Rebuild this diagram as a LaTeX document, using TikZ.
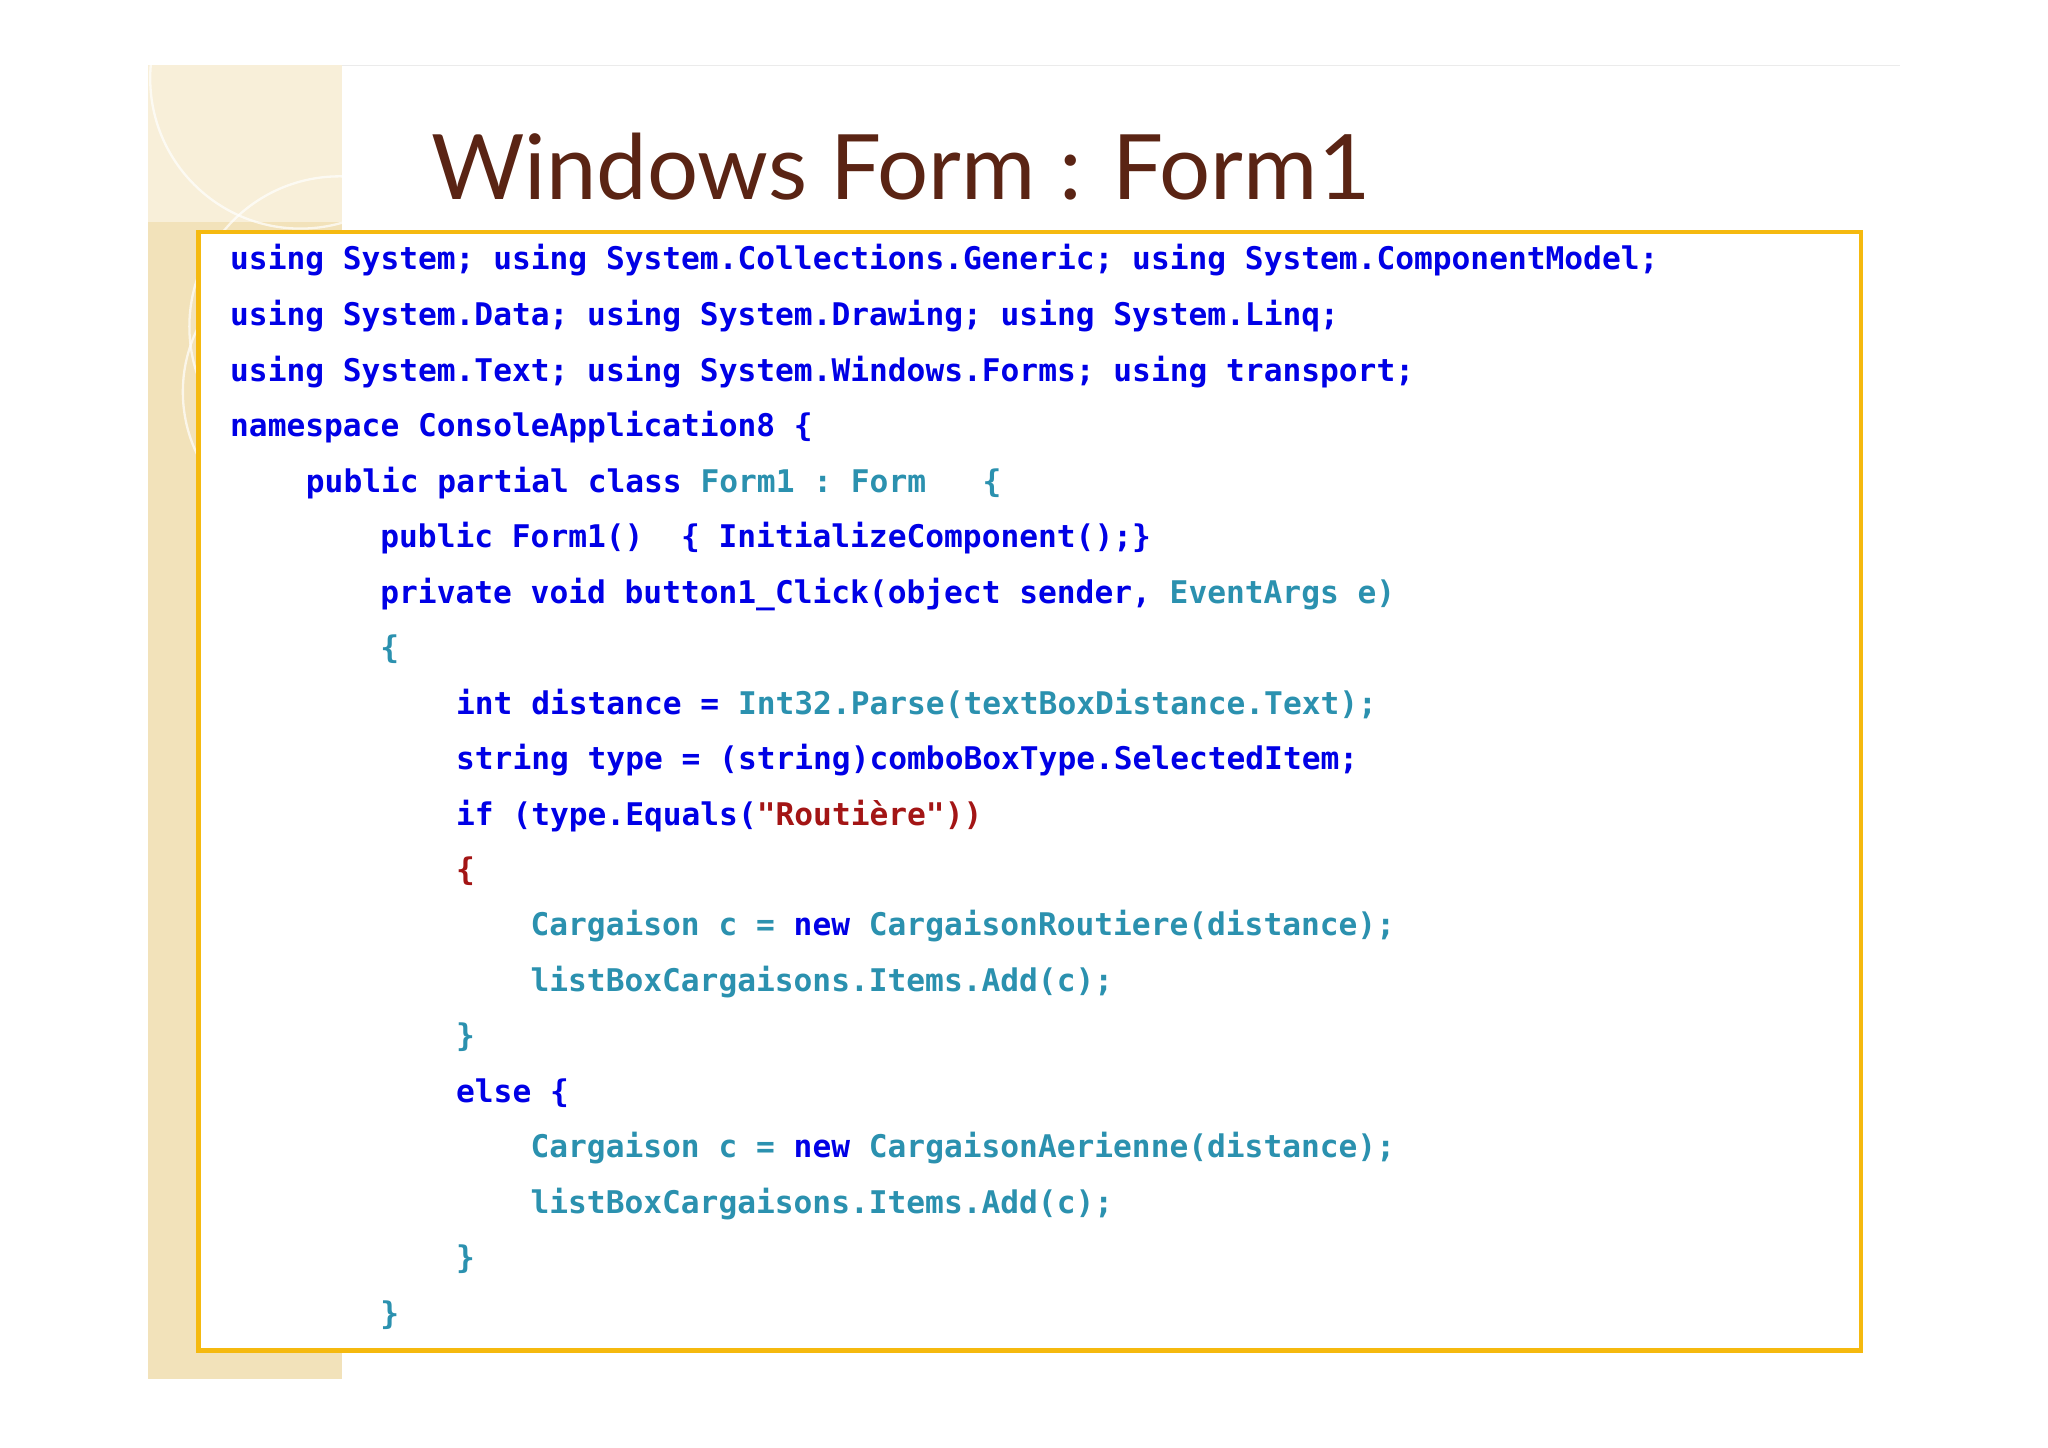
\documentclass[tikz,border=0pt]{standalone}
\usepackage{fontspec}
\setmainfont{Lato}
\setmonofont{DejaVu Sans Mono}
\definecolor{kw}{HTML}{0000E6}
\definecolor{ty}{HTML}{2B91AF}
\definecolor{st}{HTML}{A31515}
\definecolor{ttl}{HTML}{5A2414}
\definecolor{strip}{HTML}{F2E2BA}
\definecolor{frame}{HTML}{F5B90F}
\tikzset{code/.style={anchor=base west,inner sep=0pt,font=\fontsize{20.4pt}{24pt}\ttfamily\bfseries,text=kw}}
\begin{document}
\begin{tikzpicture}[x=0.03cm,y=-0.03cm]
\useasboundingbox[fill=white] (0,0) rectangle (1568,1108);
\fill[strip] (113,50) rectangle (262,1056);
\begin{scope}
\clip (113,50) rectangle (262,1056);
\fill[strip!55] (113,50) rectangle (262,170);
\draw[white,line width=1.5pt,opacity=.7] (230,60) circle (115);
\draw[white,line width=1.5pt,opacity=.7] (260,250) circle (115);
\draw[white,line width=1.5pt,opacity=.7] (250,300) circle (110);
\end{scope}
\draw[black!8,line width=0.6pt] (262,50) -- (1455,50);
\node[anchor=base west,inner sep=0pt,text=ttl,font=\fontsize{59pt}{66pt}\selectfont] (title) at (330,153) {Windows Form : Form1};
\node[draw=frame,fill=white,line width=3pt,minimum width=1273*0.03cm,minimum height=856*0.03cm,anchor=north west,inner sep=0pt] (box) at (150,176) {};
\node[code] (l1) at (176,206) {using System; using System.Collections.Generic; using System.ComponentModel;};
\node[code] (l2) at (176,249) {using System.Data; using System.Drawing; using System.Linq;};
\node[code] (l3) at (176,292) {using System.Text; using System.Windows.Forms; using transport;};
\node[code] (l4) at (176,334) {namespace ConsoleApplication8 \{};
\node[code] (l5) at (234,377) {public partial class \textcolor{ty}{Form1 : Form~~~\{}};
\node[code] (l6) at (291,419) {public Form1()~~\{ InitializeComponent();\}};
\node[code] (l7) at (291,462) {private void button1\_Click(object sender, \textcolor{ty}{EventArgs e)}};
\node[code,text=ty] (l8) at (291,504) {\{};
\node[code] (l9) at (349,547) {int distance = \textcolor{ty}{Int32.Parse(textBoxDistance.Text);}};
\node[code] (l10) at (349,589) {string type = (string)comboBoxType.SelectedItem;};
\node[code] (l11) at (349,632) {if (type.Equals(\textcolor{st}{"Routière"))}};
\node[code,text=st] (l12) at (349,674) {\{};
\node[code,text=ty] (l13) at (406,716) {Cargaison c = \textcolor{kw}{new} CargaisonRoutiere(distance);};
\node[code,text=ty] (l14) at (406,759) {listBoxCargaisons.Items.Add(c);};
\node[code,text=ty] (l15) at (349,801) {\}};
\node[code] (l16) at (349,844) {else \{};
\node[code,text=ty] (l17) at (406,886) {Cargaison c = \textcolor{kw}{new} CargaisonAerienne(distance);};
\node[code,text=ty] (l18) at (406,929) {listBoxCargaisons.Items.Add(c);};
\node[code,text=ty] (l19) at (349,971) {\}};
\node[code,text=ty] (l20) at (291,1014) {\}};
\end{tikzpicture}
\end{document}
